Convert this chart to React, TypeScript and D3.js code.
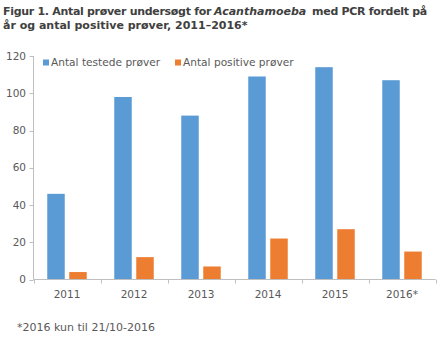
import React from "react";
import * as d3 from "d3";

const categories = ["2011", "2012", "2013", "2014", "2015", "2016*"];
const tested = [46, 98, 88, 109, 114, 107];
const positive = [4, 12, 7, 22, 27, 15];
const yTicks = [0, 20, 40, 60, 80, 100, 120];
const seriesNames = ["Antal testede prøver", "Antal positive prøver"];
const colors = ["#5B9BD5", "#ED7D31"];

const W = 440, H = 338;
const left = 33.5, right = 435.5, top = 56, bottom = 279.5;
const font = "Verdana, 'DejaVu Sans', sans-serif";

export default function App() {
  const x = d3.scaleBand<string>().domain(categories).range([left, right]).paddingInner(0).paddingOuter(0);
  const y = d3.scaleLinear().domain([0, 120]).range([bottom, top]);
  const barW = 17.5;
  const gap = 4.5;
  const series = [tested, positive];
  const tProps = { fontFamily: font, fontWeight: "bold", fontSize: 11, fill: "#404040" } as any;
  return (
    <svg width={W} height={H} style={{ position: "absolute", left: 0, top: 0, background: "#fff" }}>
      <text {...tProps} x={3} y={15} letterSpacing={-0.3}>Figur 1. Antal prøver undersøgt for</text>
      <text {...tProps} x={214} y={15} fontStyle="italic">Acanthamoeba</text>
      <text {...tProps} x={427} y={15} textAnchor="end" letterSpacing={-0.3}>med PCR fordelt på</text>
      <text {...tProps} x={3} y={29}>år og antal positive prøver, 2011–2016*</text>
      {/* legend */}
      {seriesNames.map((n, i) => {
        const lx = i === 0 ? 43 : 175;
        return (
          <g key={n}>
            <rect x={lx} y={59.5} width={6} height={6} fill={colors[i]} />
            <text x={lx + 8} y={66} fontFamily={font} fontSize={10.6} fill="#595959">{n}</text>
          </g>
        );
      })}
      {/* y ticks */}
      {yTicks.map((t) => (
        <g key={t}>
          <line x1={left - 4} x2={left} y1={Math.round(y(t)) + 0.5} y2={Math.round(y(t)) + 0.5} stroke="#bfbfbf" />
          <text x={26} y={y(t) + 3.5} textAnchor="end" fontFamily={font} fontSize={10.5} fill="#595959">{t}</text>
        </g>
      ))}
      <line x1={left} x2={left} y1={top} y2={bottom} stroke="#bfbfbf" />
      {/* bars */}
      {categories.map((c, ci) => {
        const cx = (x(c) as number) + x.bandwidth() / 2;
        return series.map((s, si) => {
          const bx = si === 0 ? cx - gap / 2 - barW : cx + gap / 2;
          return <rect key={c + si} x={bx} y={y(s[ci])} width={barW} height={bottom - y(s[ci])} fill={colors[si]} />;
        });
      })}
      {/* x axis */}
      <line x1={left} x2={right} y1={bottom} y2={bottom} stroke="#bfbfbf" />
      {categories.concat([""]).map((c, i) => {
        const tx = Math.round(left + i * x.bandwidth()) + 0.5;
        return <line key={"t" + i} x1={tx} x2={tx} y1={bottom} y2={bottom + 4} stroke="#bfbfbf" />;
      })}
      {categories.map((c) => (
        <text key={"l" + c} x={(x(c) as number) + x.bandwidth() / 2} y={298} textAnchor="middle" fontFamily={font} fontSize={10.5} fill="#595959">{c}</text>
      ))}
      <text x={17} y={331} fontFamily={font} fontSize={11} fill="#595959">*2016 kun til 21/10-2016</text>
    </svg>
  );
}
